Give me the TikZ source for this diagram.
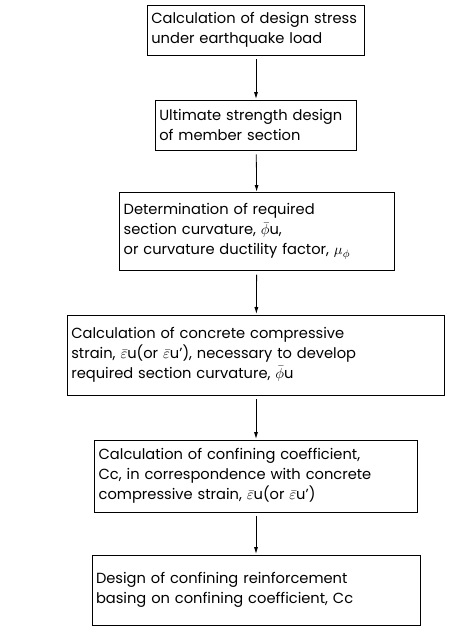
\documentclass[tikz,border=0pt]{standalone}
\usepackage{fontspec}
\setmainfont{Poppins}
\usetikzlibrary{positioning,arrows.meta}

\tikzset{
  flowbox/.style={draw, line width=0.7pt, align=left, inner xsep=3pt, inner ysep=2pt,
    font=\fontsize{11}{15}\selectfont},
  flowarrow/.style={-{Latex[length=5pt,width=3pt]}, line width=0.6pt, shorten <=3pt, shorten >=0.5pt}
}

\begin{document}
\begin{tikzpicture}[x=0.75pt,y=-0.75pt]
\useasboundingbox (0,0) rectangle (462,640);

\node[flowbox, text width=157pt, minimum height=37.5pt] (stress) at (256,30)
  {Calculation of design stress\\under earthquake load};
\node[flowbox, text width=145pt, minimum height=37.5pt] (ultimate) at (256,125)
  {Ultimate strength design\\of member section};
\node[flowbox, text width=200pt, minimum height=58pt] (curvature) at (257,231.5)
  {Determination of required\\section curvature, $\bar{\phi}$u,\\or curvature ductility factor, $\mu_{\phi}$};
\node[flowbox, text width=277pt, minimum height=60pt] (strain) at (256,355)
  {Calculation of concrete compressive\\strain, $\bar{\varepsilon}$u(or $\bar{\varepsilon}$u'), necessary to develop\\required section curvature, $\bar{\phi}$u};
\node[flowbox, text width=236pt, minimum height=54pt] (confine) at (256,476)
  {Calculation of confining coefficient,\\Cc, in correspondence with concrete\\compressive strain, $\bar{\varepsilon}$u(or $\bar{\varepsilon}$u')};
\node[flowbox, text width=240pt, minimum height=52.5pt] (reinforce) at (256,590)
  {Design of confining reinforcement\\basing on confining coefficient, Cc};

\draw[flowarrow] (stress) -- (ultimate);
\draw[flowarrow] (ultimate) -- (curvature);
\draw[flowarrow] (curvature) -- (strain);
\draw[flowarrow] (strain) -- (confine);
\draw[flowarrow] (confine) -- (reinforce);
\end{tikzpicture}
\end{document}
